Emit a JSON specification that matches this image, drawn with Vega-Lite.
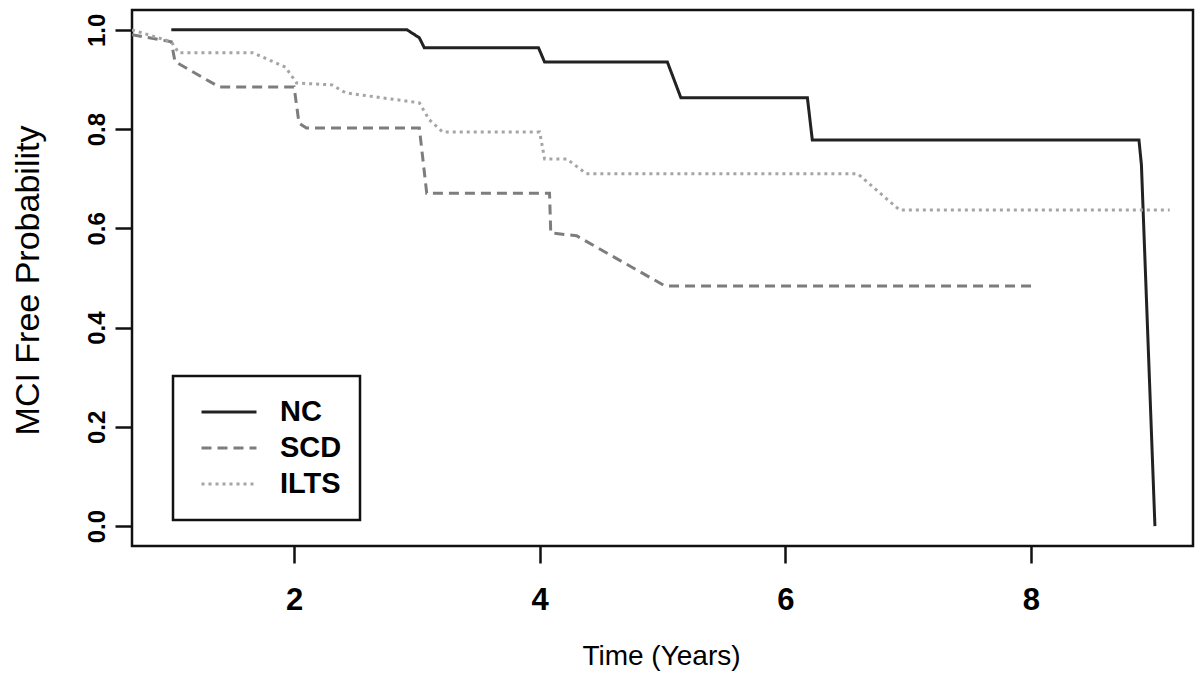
{
  "$schema": "https://vega.github.io/schema/vega-lite/v6.json",
  "width": 1061,
  "height": 536,
  "autosize": {"type": "none"},
  "padding": {"left": 132, "top": 10, "right": 7, "bottom": 135},
  "background": "white",
  "config": {
    "view": {"stroke": "#111", "strokeWidth": 2.5},
    "font": "Liberation Sans",
    "axis": {"labelFont": "Liberation Sans", "titleFont": "Liberation Sans", "labelColor": "#000", "titleColor": "#000", "titleFontWeight": "normal", "labelFontWeight": "bold", "grid": false, "domain": false, "tickColor": "#111", "tickWidth": 2.5, "tickSize": 17}
  },
  "data": {"values": [
    {"group": "NC", "time": 1.0, "surv": 1.0},
    {"group": "NC", "time": 2.92, "surv": 1.0},
    {"group": "NC", "time": 3.02, "surv": 0.984},
    {"group": "NC", "time": 3.06, "surv": 0.964},
    {"group": "NC", "time": 3.99, "surv": 0.964},
    {"group": "NC", "time": 4.04, "surv": 0.935},
    {"group": "NC", "time": 5.04, "surv": 0.935},
    {"group": "NC", "time": 5.15, "surv": 0.863},
    {"group": "NC", "time": 6.18, "surv": 0.863},
    {"group": "NC", "time": 6.22, "surv": 0.778},
    {"group": "NC", "time": 8.88, "surv": 0.778},
    {"group": "NC", "time": 8.9, "surv": 0.728},
    {"group": "NC", "time": 9.01, "surv": 0.0},
    {"group": "SCD", "time": 0.68, "surv": 0.99},
    {"group": "SCD", "time": 1.0, "surv": 0.976},
    {"group": "SCD", "time": 1.03, "surv": 0.936},
    {"group": "SCD", "time": 1.39, "surv": 0.885},
    {"group": "SCD", "time": 2.0, "surv": 0.885},
    {"group": "SCD", "time": 2.04, "surv": 0.812},
    {"group": "SCD", "time": 2.1, "surv": 0.802},
    {"group": "SCD", "time": 3.02, "surv": 0.802},
    {"group": "SCD", "time": 3.08, "surv": 0.671},
    {"group": "SCD", "time": 4.08, "surv": 0.671},
    {"group": "SCD", "time": 4.09, "surv": 0.591},
    {"group": "SCD", "time": 4.3, "surv": 0.585},
    {"group": "SCD", "time": 5.02, "surv": 0.484},
    {"group": "SCD", "time": 8.01, "surv": 0.484},
    {"group": "ILTS", "time": 0.68, "surv": 1.0},
    {"group": "ILTS", "time": 1.0, "surv": 0.976},
    {"group": "ILTS", "time": 1.06, "surv": 0.954},
    {"group": "ILTS", "time": 1.66, "surv": 0.954},
    {"group": "ILTS", "time": 1.93, "surv": 0.925},
    {"group": "ILTS", "time": 2.02, "surv": 0.893},
    {"group": "ILTS", "time": 2.31, "surv": 0.889},
    {"group": "ILTS", "time": 2.42, "surv": 0.873},
    {"group": "ILTS", "time": 3.02, "surv": 0.853},
    {"group": "ILTS", "time": 3.1, "surv": 0.819},
    {"group": "ILTS", "time": 3.21, "surv": 0.794},
    {"group": "ILTS", "time": 4.0, "surv": 0.794},
    {"group": "ILTS", "time": 4.04, "surv": 0.74},
    {"group": "ILTS", "time": 4.22, "surv": 0.74},
    {"group": "ILTS", "time": 4.38, "surv": 0.71},
    {"group": "ILTS", "time": 6.59, "surv": 0.71},
    {"group": "ILTS", "time": 6.93, "surv": 0.637},
    {"group": "ILTS", "time": 9.13, "surv": 0.637}
  ]},
  "mark": {"type": "line", "strokeWidth": 3, "clip": true},
  "encoding": {
    "x": {"field": "time", "type": "quantitative", "scale": {"domain": [0.68, 9.32], "nice": false, "zero": false},
      "axis": {"values": [2, 4, 6, 8], "title": "Time (Years)", "titleFontSize": 28, "labelFontSize": 31, "labelPadding": 22, "titleX": 529, "titleY": 110, "titleBaseline": "middle", "titleAlign": "center"}},
    "y": {"field": "surv", "type": "quantitative", "scale": {"domain": [-0.04, 1.04], "nice": false, "zero": false},
      "axis": {"values": [0, 0.2, 0.4, 0.6, 0.8, 1.0], "format": ".1f", "title": "MCI Free Probability", "titleFontSize": 34, "labelFontSize": 24, "labelAngle": -90, "labelAlign": "center", "labelBaseline": "bottom", "labelPadding": 6, "titleX": -104, "titleY": 270, "titleAngle": -90, "titleBaseline": "middle", "titleAlign": "center"}},
    "color": {"field": "group", "type": "nominal", "scale": {"domain": ["NC", "SCD", "ILTS"], "range": ["#222222", "#7d7d7d", "#a5a5a5"]},
      "legend": {"title": null, "orient": "none", "legendX": 41, "legendY": 366, "strokeColor": "#111", "padding": 18.25, "symbolOffset": 8.75, "symbolType": "stroke", "symbolSize": 3025, "symbolStrokeWidth": 3, "labelFontSize": 29, "labelFontWeight": "bold", "labelFont": "Liberation Sans", "labelColor": "#000", "labelOffset": 22, "rowPadding": 0, "clipHeight": 35.5, "labelLimit": 200, "labelExpr": "datum.label + ' '",
        "encode": {"legend": {"update": {"strokeWidth": {"value": 2.5}}}}}},
    "strokeDash": {"field": "group", "type": "nominal", "scale": {"domain": ["NC", "SCD", "ILTS"], "range": [[1, 0], [10, 6], [3, 4]]}}
  }
}
